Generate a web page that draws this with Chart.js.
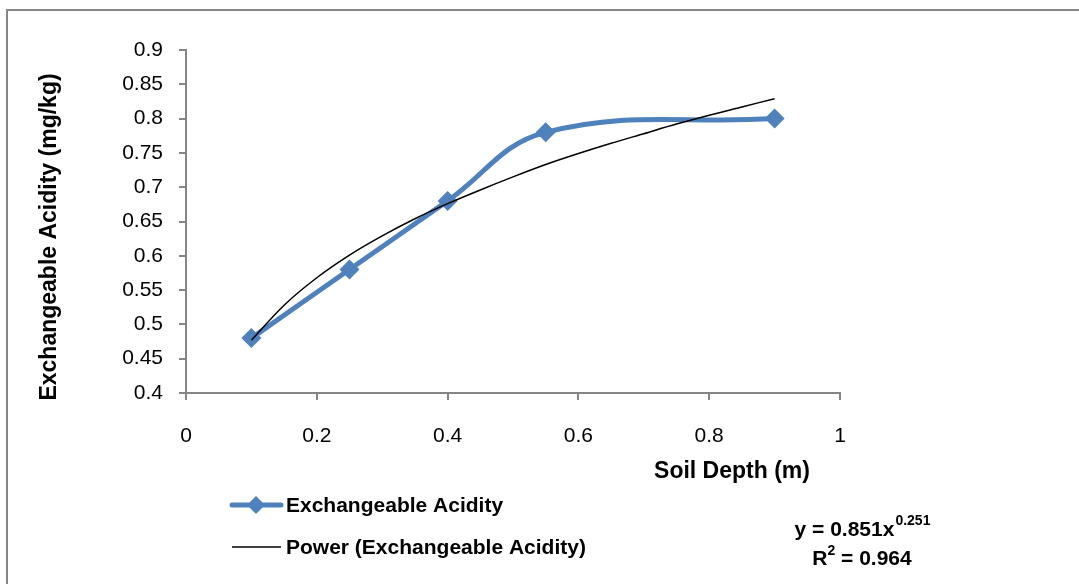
<!DOCTYPE html>
<html>
<head>
<meta charset="utf-8">
<script src="https://cdn.jsdelivr.net/npm/chart.js@4"></script>
<style>
  html, body { margin: 0; padding: 0; background: #fff; }
  #wrap { width: 1079px; height: 584px; position: relative; }
</style>
</head>
<body>
<div id="wrap"><canvas id="grafico" width="1079" height="584"></canvas></div>
<script>
// Profundidad del suelo (m) y acidez intercambiable (mg/kg)
const profundidad = [0.1, 0.25, 0.4, 0.55, 0.9];
const acidez = [0.48, 0.58, 0.68, 0.78, 0.8];

// Curva de tendencia potencial, valores leídos a lo largo de la línea
const tendenciaX = [0.1, 0.15, 0.2, 0.25, 0.3, 0.35, 0.4, 0.45, 0.5, 0.55, 0.6, 0.65, 0.7, 0.75, 0.8, 0.85, 0.9];
const tendenciaY = [0.477, 0.528, 0.568, 0.601, 0.629, 0.654, 0.676, 0.696, 0.715, 0.733, 0.749, 0.764, 0.778, 0.792, 0.805, 0.817, 0.829];

const ecuacion = ['y = 0.851x', '0.251'];
const r2 = ['R', '2', ' = 0.964'];

const fuente = "'Liberation Sans', 'DejaVu Sans', sans-serif";
const azul = '#4F81BD';
const gris = '#868686';

function diamante(ctx, x, y, r) {
    ctx.beginPath();
    ctx.moveTo(x, y - r);
    ctx.lineTo(x + r, y);
    ctx.lineTo(x, y + r);
    ctx.lineTo(x - r, y);
    ctx.closePath();
    ctx.fill();
}

// Marco, títulos de ejes, leyenda y ecuación
const extras = {
    id: 'extras',
    beforeDraw(chart) {
        const ctx = chart.ctx;
        ctx.save();
        ctx.fillStyle = '#fff';
        ctx.fillRect(0, 0, chart.width, chart.height);
        ctx.strokeStyle = gris;
        ctx.lineWidth = 2;
        ctx.strokeRect(7, 10, chart.width + 20, chart.height + 20);
        ctx.restore();
    },
    afterDraw(chart) {
        const ctx = chart.ctx;
        ctx.save();
        ctx.fillStyle = '#000';

        // título eje Y
        ctx.save();
        ctx.translate(50, 237);
        ctx.rotate(-Math.PI / 2);
        ctx.font = 'bold 23px ' + fuente;
        ctx.textAlign = 'center';
        ctx.textBaseline = 'middle';
        ctx.fillText('Exchangeable Acidity (mg/kg)', 0, 0);
        ctx.restore();

        // título eje X
        ctx.font = 'bold 23px ' + fuente;
        ctx.textAlign = 'center';
        ctx.textBaseline = 'middle';
        ctx.fillText('Soil Depth (m)', 732, 472);

        // leyenda
        ctx.font = 'bold 21px ' + fuente;
        ctx.textAlign = 'left';
        ctx.strokeStyle = azul;
        ctx.lineWidth = 5;
        ctx.lineCap = 'round';
        ctx.beginPath();
        ctx.moveTo(232, 505);
        ctx.lineTo(281, 505);
        ctx.stroke();
        ctx.fillStyle = azul;
        diamante(ctx, 256, 505, 9);
        ctx.fillStyle = '#000';
        ctx.fillText('Exchangeable Acidity', 286, 506);

        ctx.strokeStyle = '#000';
        ctx.lineWidth = 1.5;
        ctx.lineCap = 'butt';
        ctx.beginPath();
        ctx.moveTo(232, 547);
        ctx.lineTo(281, 547);
        ctx.stroke();
        ctx.fillText('Power (Exchangeable Acidity)', 286, 548);

        // ecuación y R²
        const normal = 'bold 21px ' + fuente;
        const sup = 'bold 14px ' + fuente;
        ctx.font = normal;
        let w1 = ctx.measureText(ecuacion[0]).width;
        ctx.font = sup;
        let w2 = ctx.measureText(ecuacion[1]).width;
        let x0 = 862 - (w1 + w2) / 2;
        ctx.font = normal;
        ctx.fillText(ecuacion[0], x0, 530);
        ctx.font = sup;
        ctx.fillText(ecuacion[1], x0 + w1 + 1, 521);

        ctx.font = normal;
        let a = ctx.measureText(r2[0]).width;
        let c = ctx.measureText(r2[2]).width;
        ctx.font = sup;
        let b = ctx.measureText(r2[1]).width;
        x0 = 862 - (a + b + c) / 2;
        ctx.font = normal;
        ctx.fillText(r2[0], x0, 559);
        ctx.font = sup;
        ctx.fillText(r2[1], x0 + a, 551);
        ctx.font = normal;
        ctx.fillText(r2[2], x0 + a + b, 559);

        ctx.restore();
    }
};

const ctx = document.getElementById('grafico').getContext('2d');

new Chart(ctx, {
    type: 'line',
    data: {
        datasets: [{
            label: 'Exchangeable Acidity',
            data: profundidad.map((x, i) => ({ x: x, y: acidez[i] })),
            borderColor: azul,
            backgroundColor: azul,
            borderWidth: 5,
            tension: 0.4,
            pointStyle: 'rectRot',
            pointRadius: 10,
            pointHoverRadius: 10,
            pointBorderWidth: 0,
            order: 2
        }, {
            label: 'Power (Exchangeable Acidity)',
            data: tendenciaX.map((x, i) => ({ x: x, y: tendenciaY[i] })),
            borderColor: '#000',
            borderWidth: 1.5,
            cubicInterpolationMode: 'monotone',
            pointRadius: 0,
            order: 1
        }]
    },
    options: {
        responsive: false,
        animation: false,
        events: [],
        layout: { padding: { left: 0, top: 50, right: 239, bottom: 131 } },
        plugins: {
            legend: { display: false },
            tooltip: { enabled: false }
        },
        scales: {
            x: {
                type: 'linear',
                min: 0,
                max: 1,
                afterFit(s) { s.height = 60; },
                border: { color: gris, width: 2 },
                grid: { drawOnChartArea: false, tickLength: 7, color: gris, lineWidth: 2 },
                ticks: {
                    stepSize: 0.2,
                    padding: 24,
                    color: '#000',
                    font: { family: fuente, size: 21 },
                    callback: v => String(+v.toFixed(1))
                }
            },
            y: {
                min: 0.4,
                max: 0.9,
                afterFit(s) { s.width = 186; },
                border: { color: gris, width: 2 },
                grid: { drawOnChartArea: false, tickLength: 7, color: gris, lineWidth: 2 },
                ticks: {
                    stepSize: 0.05,
                    padding: 16,
                    color: '#000',
                    font: { family: fuente, size: 21 },
                    callback: v => String(+v.toFixed(2))
                }
            }
        }
    },
    plugins: [extras]
});
</script>
</body>
</html>
